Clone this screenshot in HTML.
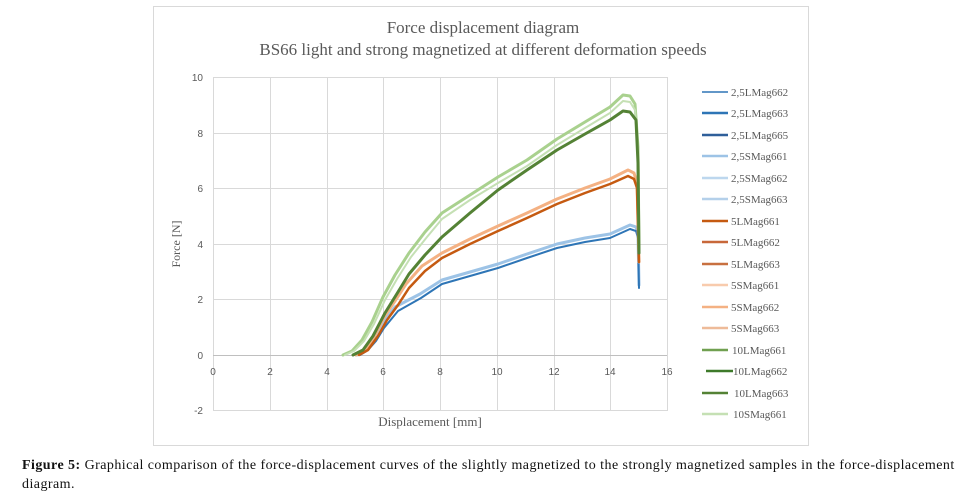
<!DOCTYPE html>
<html><head><meta charset="utf-8"><style>
body{margin:0;background:#fff;width:974px;height:498px;overflow:hidden;position:relative;font-family:"Liberation Serif",serif}
.cap{position:absolute;left:22px;top:456px;width:935px;font-size:14px;letter-spacing:0.45px;line-height:19px;color:#111}
</style></head><body>
<svg width="974" height="455" style="position:absolute;left:0;top:0" font-family="Liberation Serif, serif">
<rect x="153.5" y="6.5" width="655" height="439" fill="#fff" stroke="#d9d9d9"/>
<text x="483" y="33" font-size="17" fill="#595959" text-anchor="middle">Force displacement diagram</text>
<text x="483" y="55" font-size="17" fill="#595959" text-anchor="middle">BS66 light and strong magnetized at different deformation speeds</text>
<g stroke="#d9d9d9" stroke-width="1">
<line x1="213" y1="77.5" x2="667" y2="77.5"/><line x1="213" y1="133.5" x2="667" y2="133.5"/><line x1="213" y1="188.5" x2="667" y2="188.5"/><line x1="213" y1="244.5" x2="667" y2="244.5"/><line x1="213" y1="299.5" x2="667" y2="299.5"/><line x1="213" y1="410.5" x2="667" y2="410.5"/>
<line x1="213.5" y1="77" x2="213.5" y2="411"/><line x1="270.5" y1="77" x2="270.5" y2="411"/><line x1="327.5" y1="77" x2="327.5" y2="411"/><line x1="383.5" y1="77" x2="383.5" y2="411"/><line x1="440.5" y1="77" x2="440.5" y2="411"/><line x1="497.5" y1="77" x2="497.5" y2="411"/><line x1="554.5" y1="77" x2="554.5" y2="411"/><line x1="610.5" y1="77" x2="610.5" y2="411"/><line x1="667.5" y1="77" x2="667.5" y2="411"/>
</g>
<line x1="213" y1="355.5" x2="667" y2="355.5" stroke="#bfbfbf"/>
<g font-family="Liberation Sans, sans-serif" font-size="10" fill="#595959" text-anchor="end">
<text x="203" y="81">10</text><text x="203" y="137">8</text><text x="203" y="192">6</text><text x="203" y="248">4</text><text x="203" y="303">2</text><text x="203" y="359">0</text><text x="203" y="414">-2</text>
</g>
<g font-family="Liberation Sans, sans-serif" font-size="10" fill="#595959" text-anchor="middle">
<text x="213" y="375">0</text><text x="270" y="375">2</text><text x="327" y="375">4</text><text x="383" y="375">6</text><text x="440" y="375">8</text><text x="497" y="375">10</text><text x="554" y="375">12</text><text x="610" y="375">14</text><text x="667" y="375">16</text>
</g>
<text x="180" y="244" font-size="12" fill="#595959" text-anchor="middle" transform="rotate(-90 180 244)">Force [N]</text>
<text x="430" y="426" font-size="13" fill="#595959" text-anchor="middle">Displacement [mm]</text>
<g fill="none" stroke-linejoin="round" stroke-linecap="round">
<!-- blue -->
<polyline stroke="#9dc3e6" stroke-width="3" points="357,355 365,350 373,339 381,325 395,307 420,294 442,280 470,272 498,264 527,254 557,244 585,238 610,234 630,225 636,227 638,234 639,285"/>
<polyline stroke="#2e75b6" stroke-width="2" points="360,355 368,350 376,341 384,328 398,311 421,298 442,284 470,276 498,268 527,258 557,248 585,242 610,238 630,229 636,231 638,238 639,288"/>
<!-- orange -->
<polyline stroke="#f4b183" stroke-width="3" points="356,355 365,350 375,335 384,317 395,301 406,284 422,266 442,253 470,239 498,226 527,213 557,199 585,188 610,179 628,170 634,173 637,183 639,262"/>
<polyline stroke="#c55a11" stroke-width="2.5" points="359,355 368,350 378,336 387,320 398,305 409,288 425,271 442,258 470,244 498,231 527,218 557,204 585,193 610,184 628,176 634,179 637,188 639,262"/>
<!-- green -->
<polyline stroke="#a9d18e" stroke-width="3" points="343,355 352,351 362,340 372,322 383,297 395,275 409,253 425,232 442,213 470,195 498,177 527,160 557,139 585,122 610,107 623,95 630,96 635,104 638,147 639,250"/>
<polyline stroke="#c5e0b4" stroke-width="2" points="345,355 354,351 364,341 374,324 385,300 397,279 411,257 427,237 442,219 470,200 498,183 527,166 557,145 585,128 610,113 623,101 630,102 635,110 638,150 639,250"/>
<polyline stroke="#548235" stroke-width="3" points="353,355 363,350 373,336 385,313 398,292 409,274 425,255 442,237 470,213 498,190 527,170 557,150 585,134 610,120 623,111 630,112 636,120 638,163 639,253"/>
</g>
<g stroke-width="2.5">
<line x1="702" y1="92" x2="728" y2="92" stroke="#2e75b6" stroke-width="1.5"/>
<line x1="702" y1="113" x2="728" y2="113" stroke="#2e75b6"/>
<line x1="702" y1="135" x2="728" y2="135" stroke="#2f5f9a"/>
<line x1="702" y1="156" x2="728" y2="156" stroke="#9dc3e6"/>
<line x1="702" y1="178" x2="728" y2="178" stroke="#bdd7ee"/>
<line x1="702" y1="199" x2="728" y2="199" stroke="#b4d0ea"/>
<line x1="702" y1="221" x2="728" y2="221" stroke="#c55a11"/>
<line x1="702" y1="242" x2="728" y2="242" stroke="#c8683a"/>
<line x1="702" y1="264" x2="728" y2="264" stroke="#c87040"/>
<line x1="702" y1="285" x2="728" y2="285" stroke="#f8cbad"/>
<line x1="702" y1="307" x2="728" y2="307" stroke="#f4b183"/>
<line x1="702" y1="328" x2="728" y2="328" stroke="#eebb99"/>
<line x1="702" y1="350" x2="728" y2="350" stroke="#70a050"/>
<line x1="706" y1="371" x2="733" y2="371" stroke="#3e7a2a"/>
<line x1="702" y1="393" x2="728" y2="393" stroke="#548235"/>
<line x1="702" y1="414" x2="728" y2="414" stroke="#c5e0b4"/>
</g>
<g font-size="11" fill="#595959">
<text x="731" y="96">2,5LMag662</text><text x="731" y="117">2,5LMag663</text><text x="731" y="139">2,5LMag665</text><text x="731" y="160">2,5SMag661</text><text x="731" y="182">2,5SMag662</text><text x="731" y="203">2,5SMag663</text><text x="731" y="225">5LMag661</text><text x="731" y="246">5LMag662</text><text x="731" y="268">5LMag663</text><text x="731" y="289">5SMag661</text><text x="731" y="311">5SMag662</text><text x="731" y="332">5SMag663</text><text x="732" y="354">10LMag661</text><text x="733" y="375">10LMag662</text><text x="734" y="397">10LMag663</text><text x="733" y="418">10SMag661</text>
</g>
</svg>
<div class="cap"><b>Figure 5:</b> Graphical comparison of the force-displacement curves of the slightly magnetized to the strongly magnetized samples in the force-displacement diagram.</div>
</body></html>
